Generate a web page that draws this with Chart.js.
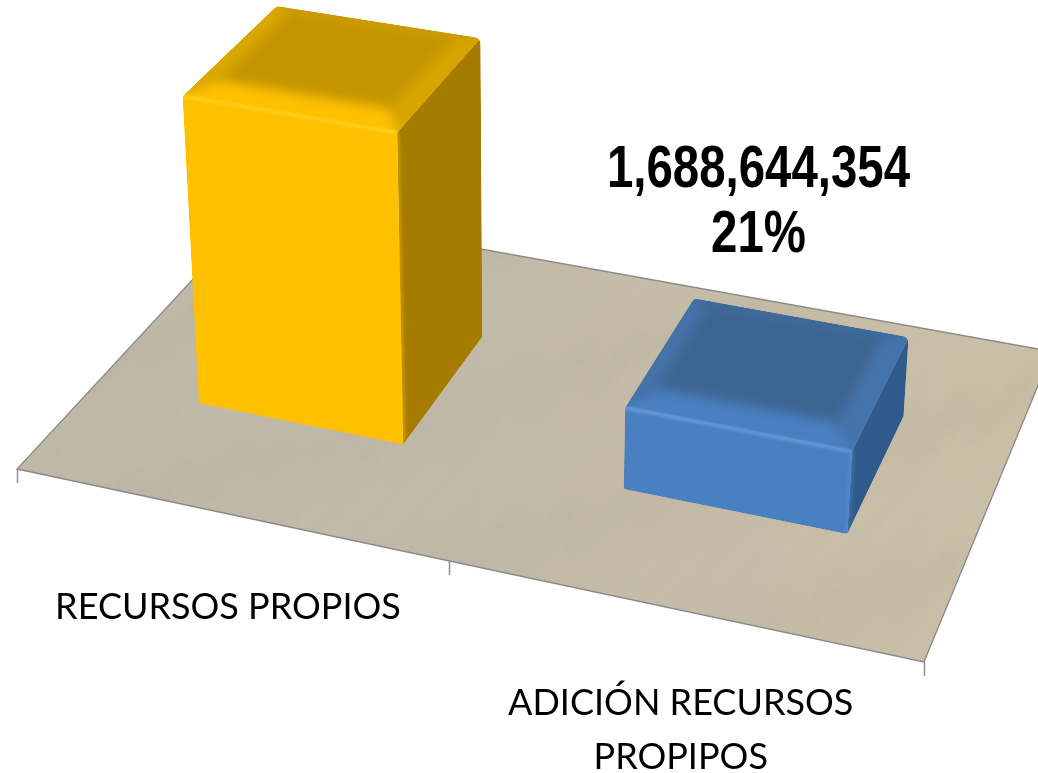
<!DOCTYPE html>
<html>
<head>
<meta charset="utf-8">
<style>
  html, body { margin: 0; padding: 0; background: #fff; overflow: hidden; }
  canvas { display: block; }
</style>
<script src="https://cdn.jsdelivr.net/npm/chart.js@4"></script>
</head>
<body>
<canvas id="reportsChart" width="1038" height="773"></canvas>
<script>
const categories = [["RECURSOS PROPIOS"], ["ADICIÓN RECURSOS", "PROPIPOS"]];
const seriesValues = [6350000000, 1688644354];
const percentLabels = ["79%", "21%"];
const shownLabels = [false, true];

const barStyles = [
    { front: "#FFC000", side: "#A67C00", top: "#C49600", shine: "#FFD21F", edge: "#FFC400", right: "#D6A500", left: "#D9A800", back: "#CC9C00" },
    { front: "#4A7FC1", side: "#2F5A8C", top: "#3D6592", shine: "#6CA0DC", edge: "#5C93D4", right: "#4574AC", left: "#4472A8", back: "#3F6A9C" }
];

// floor corners on screen: front left, front right, back right, back left
const floorCorners = [[17, 469], [924, 662], [1052, 351.5], [258, 209]];
const vanishPoint = [520, 6400];
const depthRange = [0.30, 0.69];
const maxRise = 0.0539;

function makeFloorMap(c) {
    const dx1 = c[1][0] - c[2][0], dx2 = c[3][0] - c[2][0], sx = c[0][0] - c[1][0] + c[2][0] - c[3][0];
    const dy1 = c[1][1] - c[2][1], dy2 = c[3][1] - c[2][1], sy = c[0][1] - c[1][1] + c[2][1] - c[3][1];
    const det = dx1 * dy2 - dx2 * dy1;
    const g = (sx * dy2 - dx2 * sy) / det;
    const h = (dx1 * sy - sx * dy1) / det;
    return {
        g: g, h: h,
        a: c[1][0] - c[0][0] + g * c[1][0], b: c[3][0] - c[0][0] + h * c[3][0], c: c[0][0],
        d: c[1][1] - c[0][1] + g * c[1][1], e: c[3][1] - c[0][1] + h * c[3][1], f: c[0][1]
    };
}
const floorMap = makeFloorMap(floorCorners);

// u along the category axis, v into the depth, rise up the value axis
function project(u, v, rise) {
    const m = floorMap;
    const w = 1 + m.g * u + m.h * v;
    const px = (m.a * u + m.b * v + m.c) / w;
    const py = (m.d * u + m.e * v + m.f) / w;
    const f = rise / (w - rise);
    return [px + f * (px - vanishPoint[0]), py + f * (py - vanishPoint[1])];
}

function tracePoly(ctx, pts) {
    ctx.beginPath();
    pts.forEach((p, i) => i ? ctx.lineTo(p[0], p[1]) : ctx.moveTo(p[0], p[1]));
    ctx.closePath();
}

function fillPoly(ctx, pts, color) {
    tracePoly(ctx, pts);
    ctx.fillStyle = color;
    ctx.fill();
}

function traceRounded(ctx, pts, radii) {
    const n = pts.length;
    const mid = (a, b) => [(a[0] + b[0]) / 2, (a[1] + b[1]) / 2];
    const start = mid(pts[n - 1], pts[0]);
    ctx.beginPath();
    ctx.moveTo(start[0], start[1]);
    for (let i = 0; i < n; i++) {
        const next = pts[(i + 1) % n];
        ctx.arcTo(pts[i][0], pts[i][1], next[0], next[1], radii[i]);
    }
    ctx.closePath();
}

function softLine(ctx, a, b, color, width, blur) {
    ctx.save();
    ctx.filter = "blur(" + blur + "px)";
    ctx.strokeStyle = color;
    ctx.lineWidth = width;
    ctx.beginPath();
    ctx.moveTo(a[0], a[1]);
    ctx.lineTo(b[0], b[1]);
    ctx.stroke();
    ctx.restore();
}

// paper-like mottling on the floor, fixed pattern from the golden ratio
function drawFloorTexture(ctx, quad) {
    ctx.save();
    tracePoly(ctx, quad);
    ctx.clip();
    ctx.filter = "blur(6px)";
    for (let i = 0; i < 420; i++) {
        const x = (i * 0.6180339887 % 1) * 1060;
        const y = (i * 0.7548776662 % 1) * 470 + 205;
        ctx.fillStyle = i % 2 ? "rgba(255,250,235,0.025)" : "rgba(120,105,80,0.02)";
        ctx.beginPath();
        ctx.ellipse(x, y, 20, 11, -0.5, 0, Math.PI * 2);
        ctx.fill();
    }
    ctx.restore();
}

function drawPrism(ctx, u0, u1, rise, style) {
    const v0 = depthRange[0], v1 = depthRange[1];
    const fl = project(u0, v0, 0), fr = project(u1, v0, 0), br = project(u1, v1, 0);
    const tfl = project(u0, v0, rise), tfr = project(u1, v0, rise);
    const tbr = project(u1, v1, rise), tbl = project(u0, v1, rise);

    ctx.save();
    traceRounded(ctx, [fl, fr, br, tbr, tbl, tfl], [3, 4, 3, 7, 7, 7]);
    ctx.clip();

    fillPoly(ctx, [fr, br, tbr, tfr], style.side);
    fillPoly(ctx, [fl, fr, tfr, tfl], style.front);
    softLine(ctx, tfl, tfr, style.shine, 3, 1.5);
    softLine(ctx, tfr, fr, style.edge, 2, 2);

    // top face, with the bevel fading in from each edge
    ctx.save();
    tracePoly(ctx, [tfl, tfr, tbr, tbl]);
    ctx.clip();
    fillPoly(ctx, [tfl, tfr, tbr, tbl], style.top);

    const du = 0.028, dv = 0.06;
    const i0 = u0 + du * 0.7, i1 = u1 - du, j0 = v0 + dv * 1.3, j1 = v1 - dv * 0.4;
    const o0 = u0 - du, o1 = u1 + du, k0 = v0 - dv, k1 = v1 + dv;
    const inner = { a: project(i0, j0, rise), b: project(i1, j0, rise), c: project(i1, j1, rise), d: project(i0, j1, rise) };
    const outer = { a: project(o0, k0, rise), b: project(o1, k0, rise), c: project(o1, k1, rise), d: project(o0, k1, rise) };

    ctx.filter = "blur(6px)";
    fillPoly(ctx, [outer.d, outer.c, inner.c, inner.d], style.back);
    fillPoly(ctx, [outer.a, outer.d, inner.d, inner.a], style.left);
    fillPoly(ctx, [outer.b, outer.c, inner.c, inner.b], style.right);
    fillPoly(ctx, [outer.a, outer.b, inner.b, inner.a], style.front);
    ctx.filter = "none";
    softLine(ctx, tfl, tfr, style.shine, 3, 1);
    ctx.restore();

    ctx.restore();
}

const scenePlugin = {
    id: "scene",
    beforeDatasetsDraw(chart) {
        const ctx = chart.ctx;
        const n = categories.length;
        const quad = [project(0, 0, 0), project(1, 0, 0), project(1, 1, 0), project(0, 1, 0)];

        const grad = ctx.createLinearGradient(0, 0, 1038, 0);
        grad.addColorStop(0, "#BEB7A7");
        grad.addColorStop(0.5, "#C2BAA8");
        grad.addColorStop(1, "#CABFA6");
        fillPoly(ctx, quad, grad);
        drawFloorTexture(ctx, quad);

        tracePoly(ctx, quad);
        ctx.strokeStyle = "#8A8A8A";
        ctx.lineWidth = 1.3;
        ctx.stroke();

        ctx.lineWidth = 1.5;
        for (let i = 0; i <= n; i++) {
            const p = project(i / n, 0, 0);
            ctx.beginPath();
            ctx.moveTo(Math.round(p[0]) + 0.5, p[1]);
            ctx.lineTo(Math.round(p[0]) + 0.5, p[1] + 14);
            ctx.strokeStyle = "#8E8E8E";
            ctx.stroke();
        }
    },
    afterDatasetsDraw(chart) {
        const ctx = chart.ctx;
        const area = chart.chartArea;
        const meta = chart.getDatasetMeta(0);

        meta.data.forEach((bar, i) => {
            const u0 = (bar.x - bar.width / 2 - area.left) / area.width;
            const u1 = (bar.x + bar.width / 2 - area.left) / area.width;
            const rise = (bar.base - bar.y) / area.height * maxRise;
            drawPrism(ctx, u0, u1, rise, barStyles[i]);
        });

        ctx.fillStyle = "#000";
        ctx.textAlign = "center";
        ctx.textBaseline = "middle";

        meta.data.forEach((bar, i) => {
            const u = (bar.x - area.left) / area.width;
            const p = project(u, 0, 0);
            ctx.font = "36px Lato";
            categories[i].forEach((line, k) => ctx.fillText(line, p[0], p[1] + 93 + k * 54));

            if (shownLabels[i]) {
                const rise = (bar.base - bar.y) / area.height * maxRise;
                const t = project(u, 0.5, rise);
                ctx.save();
                ctx.translate(t[0] - 12, t[1]);
                ctx.scale(0.79, 1);
                ctx.font = "bold 60px 'Liberation Sans'";
                ctx.fillText(seriesValues[i].toLocaleString("en-US"), 0, -200);
                ctx.fillText(percentLabels[i], 0, -135);
                ctx.restore();
            }
        });
    }
};

new Chart(document.getElementById("reportsChart").getContext("2d"), {
    type: "bar",
    data: {
        labels: categories,
        datasets: [{
            data: seriesValues,
            backgroundColor: "transparent",
            categoryPercentage: 0.5,
            barPercentage: 0.984
        }]
    },
    options: {
        responsive: false,
        animation: false,
        plugins: { legend: { display: false }, tooltip: { enabled: false } },
        scales: {
            x: { display: false },
            y: { display: false, min: 415000000, max: 7200000000 }
        }
    },
    plugins: [scenePlugin]
});
</script>
</body>
</html>
